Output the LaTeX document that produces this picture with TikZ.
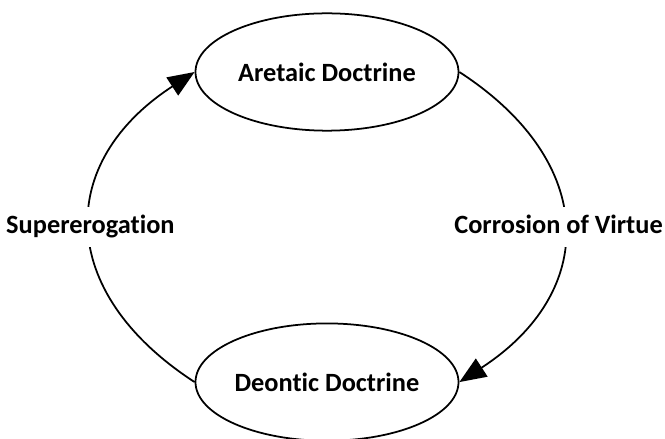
\documentclass[tikz,border=0pt]{standalone}
\usepackage{fontspec}
\setmainfont{Carlito}[Ligatures=NoCommon]
\usetikzlibrary{shapes.geometric,arrows.meta,positioning}

\begin{document}
\begin{tikzpicture}[line width=1.5pt,
    every node/.style={font=\fontsize{22.5}{27}\selectfont\bfseries},
    doctrine/.style={ellipse, draw, inner sep=0pt, minimum width=7.89cm, minimum height=3.52cm},
    arclabel/.style={fill=white, inner sep=6.5pt, text height=16pt, text depth=5pt},
    big tip/.style={-{Triangle[length=0.8cm,width=0.64cm]}}]
\useasboundingbox (-9.81,-11.01) rectangle (10.14,2.16);

% Doctrines
\node[  doctrine
    ] (aretaic) at (0,0) {Aretaic Doctrine};
\node[  doctrine,
        below=5.73cm of aretaic
    ] (deontic) {Deontic Doctrine};
% Arcs
\draw
    (deontic.west) edge[big tip, bend left=57, looseness=1.37]
        node[arclabel] {Supererogation} (aretaic.west)
    (aretaic.east) edge[big tip, bend left=57, looseness=1.37]
        node[arclabel, xshift=-0.15cm] {Corrosion of Virtue} (deontic.east);
\end{tikzpicture}
\end{document}
